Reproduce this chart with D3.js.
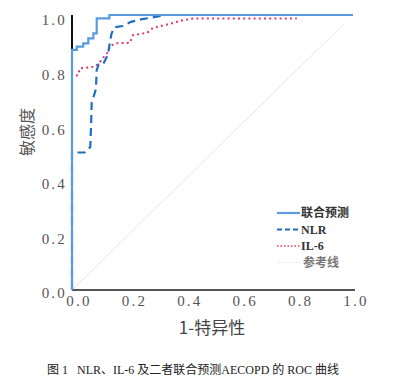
<!DOCTYPE html>
<html><head><meta charset="utf-8">
<script src="https://cdn.jsdelivr.net/npm/d3@7"></script>
<style>
body{margin:0;background:#fff;}
svg{display:block;}
</style></head>
<body><svg id="c" width="397" height="383"></svg>
<script>
// ---- data (fpr, tpr) ----
const combinedFpr = [0, 0, 0.017, 0.040, 0.058, 0.076, 0.088, 0.133, 1];
const combinedTpr = [0, 0.873, 0.885, 0.897, 0.915, 0.933, 0.988, 1, 1];

const nlrFpr = [0, 0, 0.045, 0.065, 0.068, 0.070, 0.085, 0.088, 0.095, 0.110, 0.125, 0.130, 0.140, 0.150, 0.180, 0.210, 0.250, 0.280, 0.330, 1];
const nlrTpr = [0, 0.50, 0.50, 0.52, 0.60, 0.68, 0.73, 0.80, 0.82, 0.82, 0.85, 0.87, 0.93, 0.955, 0.96, 0.975, 0.985, 0.99, 1, 1];

const il6Fpr = [0, 0, 0.017, 0.022, 0.028, 0.082, 0.10, 0.11, 0.128, 0.135, 0.153, 0.206, 0.217, 0.267, 0.288, 0.36, 0.384, 0.43, 0.80];
const il6Tpr = [0, 0.78, 0.78, 0.782, 0.806, 0.812, 0.83, 0.844, 0.865, 0.885, 0.897, 0.899, 0.927, 0.935, 0.953, 0.971, 0.979, 0.987, 0.987];

const refFpr = [0, 0.97];
const refTpr = [0, 0.97];

const tickValues = [0, 0.2, 0.4, 0.6, 0.8, 1.0];
const legendLabels = ["联合预测", "NLR", "IL-6", "参考线"];
const xTitle = "1-特异性";
const yTitle = "敏感度";
const caption = "图 1\u00a0\u00a0\u00a0NLR、IL-6 及二者联合预测AECOPD 的 ROC 曲线";

// ---- drawing ----
const svg = d3.select("#c");
const x = d3.scaleLinear().domain([0,1]).range([72,353]);
const y = d3.scaleLinear().domain([0,1]).range([290,15]);
const xl = d3.scaleLinear().domain([0,1]).range([78.5,355.5]);
const yl = d3.scaleLinear().domain([0,1]).range([293,20]);

const zip = (a,b)=>a.map((v,i)=>[v,b[i]]);
const lineLin = d3.line().x(d=>x(d[0])).y(d=>y(d[1]));
const lineStep = d3.line().x(d=>x(d[0])).y(d=>y(d[1])).curve(d3.curveStepAfter);

// reference diagonal
svg.append("path").attr("d", lineLin(zip(refFpr,refTpr)))
  .attr("fill","none").attr("stroke","#e6e6e6").attr("stroke-width",1);

// axes lines
svg.append("line").attr("x1",x(0)).attr("x2",355).attr("y1",y(0)).attr("y2",y(0))
  .attr("stroke","#555").attr("stroke-width",2);
svg.append("line").attr("x1",x(0)).attr("x2",x(0)).attr("y1",y(0)).attr("y2",y(1))
  .attr("stroke","#111").attr("stroke-width",2);

// tick labels via axes
const fmt = d3.format(".1f");
const gx = svg.append("g").attr("transform","translate(0,292)")
  .call(d3.axisBottom(xl).tickValues(tickValues).tickFormat(fmt).tickSize(0).tickPadding(3));
const gy = svg.append("g").attr("transform","translate(70,0)")
  .call(d3.axisLeft(yl).tickValues(tickValues).tickFormat(fmt).tickSize(0).tickPadding(3));
[gx,gy].forEach(g=>{
  g.select(".domain").remove();
  g.selectAll("text").attr("font-family","'Liberation Serif', serif").attr("font-size",15)
    .attr("fill","#555").attr("letter-spacing","2.2px");
});

// curves
svg.append("path").attr("d", lineLin(zip(il6Fpr,il6Tpr)))
  .attr("fill","none").attr("stroke","#e23a62").attr("stroke-width",2)
  .attr("stroke-dasharray","2,3.2");
svg.append("path").attr("d", lineLin(zip(nlrFpr,nlrTpr)))
  .attr("fill","none").attr("stroke","#1f6fc0").attr("stroke-width",2.2)
  .attr("stroke-dasharray","8,5");
svg.append("path").attr("d", lineStep(zip(combinedFpr,combinedTpr)))
  .attr("fill","none").attr("stroke","#5a9ae0").attr("stroke-width",2.2);

// titles
svg.append("text").attr("x",212).attr("y",334).attr("text-anchor","middle")
  .attr("font-family","'Noto Sans CJK SC', sans-serif").attr("font-size",17).attr("fill","#444")
  .text(xTitle);
svg.append("text").attr("transform","translate(33,132) rotate(-90)").attr("text-anchor","middle")
  .attr("font-family","'Noto Sans CJK SC', sans-serif").attr("font-size",16).attr("fill","#555")
  .text(yTitle);

// legend
const legStyles = [
  {stroke:"#5a9ae0", dash:null, w:2.2},
  {stroke:"#1f6fc0", dash:"5,3", w:2.2},
  {stroke:"#e23a62", dash:"1.5,2", w:1.6},
  {stroke:"#f0f0f0", dash:null, w:1}
];
const ly0 = 213, lstep = 16.5;
legendLabels.forEach((lab,i)=>{
  const yy = ly0 + i*lstep;
  const s = legStyles[i];
  svg.append("line").attr("x1",277).attr("x2",300).attr("y1",yy).attr("y2",yy)
    .attr("stroke",s.stroke).attr("stroke-width",s.w).attr("stroke-dasharray",s.dash);
  svg.append("text").attr("x", i===3?303:301).attr("y",yy+4.3)
    .attr("font-family","'Liberation Serif','Noto Sans CJK SC', serif").attr("font-size",12)
    .attr("font-weight","bold").attr("fill", i===3?"#777":"#333").text(lab);
});

// caption
svg.append("text").attr("x",193).attr("y",374).attr("text-anchor","middle")
  .attr("font-family","'Liberation Serif','Noto Sans CJK SC', serif").attr("font-size",12)
  .attr("fill","#222").text(caption);
</script></body></html>
